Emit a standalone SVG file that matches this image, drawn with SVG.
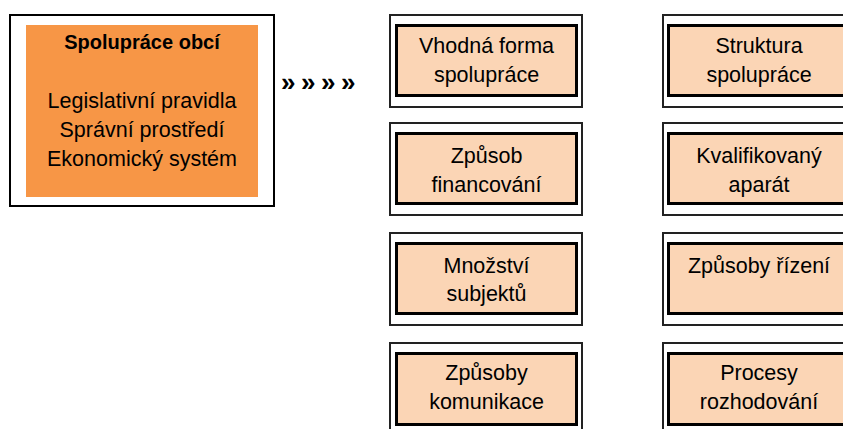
<svg xmlns="http://www.w3.org/2000/svg" width="843" height="429" viewBox="0 0 843 429">
<style>
.outer{fill:#fff;stroke:#222;stroke-width:2}
.inner{fill:#FBD5B5;stroke:#000;stroke-width:3}
.t{font-family:"Liberation Sans",Arial,sans-serif;font-size:21.5px;fill:#000;text-anchor:middle}
.b{font-weight:bold;font-size:20px}
</style>
<rect width="843" height="429" fill="#fff"/>
<g id="main">
<rect x="10" y="15" width="264" height="191" fill="#fff" stroke="#000" stroke-width="2"/>
<rect x="26" y="25" width="232" height="172" fill="#F79646"/>
<text class="t b" x="142" y="49">Spolupráce obcí</text>
<text class="t" x="142" y="108">Legislativní pravidla</text>
<text class="t" x="142" y="137">Správní prostředí</text>
<text class="t" x="142" y="166">Ekonomický systém</text>
</g>
<g id="connectors">
<text font-family="Liberation Sans,Arial,sans-serif" font-size="26" font-weight="bold" fill="#000" x="281 301 321 341" y="91">»»»»</text>
</g>
<g id="n1">
<rect class="outer" x="390" y="15" width="192" height="92"/>
<rect class="inner" x="396.5" y="25.5" width="180" height="70"/>
<text class="t" x="486.5" y="53">Vhodná forma</text>
<text class="t" x="486.5" y="82">spolupráce</text>
</g>
<g id="n2">
<rect class="outer" x="390" y="123" width="192" height="92"/>
<rect class="inner" x="396.5" y="133.5" width="180" height="70"/>
<text class="t" x="486.5" y="163">Způsob</text>
<text class="t" x="486.5" y="192">financování</text>
</g>
<g id="n3">
<rect class="outer" x="390" y="233" width="192" height="92"/>
<rect class="inner" x="396.5" y="243.5" width="180" height="70"/>
<text class="t" x="486.5" y="273">Množství</text>
<text class="t" x="486.5" y="301">subjektů</text>
</g>
<g id="n4">
<rect class="outer" x="390" y="343" width="192" height="92"/>
<rect class="inner" x="396.5" y="353.5" width="180" height="71"/>
<text class="t" x="486.5" y="380">Způsoby</text>
<text class="t" x="486.5" y="409">komunikace</text>
</g>
<g id="n5">
<rect class="outer" x="663" y="15" width="192" height="92"/>
<rect class="inner" x="668.5" y="25.5" width="182" height="70"/>
<text class="t" x="759" y="53">Struktura</text>
<text class="t" x="759" y="82">spolupráce</text>
</g>
<g id="n6">
<rect class="outer" x="663" y="123" width="192" height="92"/>
<rect class="inner" x="668.5" y="133.5" width="182" height="70"/>
<text class="t" x="759" y="163">Kvalifikovaný</text>
<text class="t" x="759" y="192">aparát</text>
</g>
<g id="n7">
<rect class="outer" x="663" y="233" width="192" height="92"/>
<rect class="inner" x="668.5" y="243.5" width="182" height="70"/>
<text class="t" x="759" y="273">Způsoby řízení</text>
</g>
<g id="n8">
<rect class="outer" x="663" y="343" width="192" height="92"/>
<rect class="inner" x="668.5" y="353.5" width="182" height="71"/>
<text class="t" x="759" y="380">Procesy</text>
<text class="t" x="759" y="409">rozhodování</text>
</g>
</svg>
